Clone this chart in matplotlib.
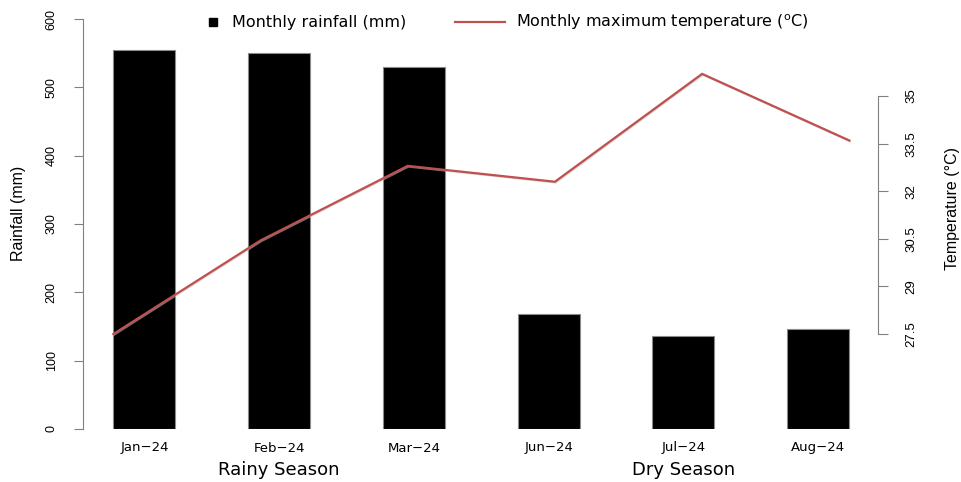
import matplotlib
matplotlib.use("Agg")
import matplotlib.pyplot as plt
from matplotlib import font_manager
from matplotlib.lines import Line2D
import matplotlib.patheffects as pe
import numpy as np

# ---- data ----
months = ["Jan\u221224", "Feb\u221224", "Mar\u221224", "Jun\u221224", "Jul\u221224", "Aug\u221224"]
seasons = ["Rainy Season", "Rainy Season", "Rainy Season", "Dry Season", "Dry Season", "Dry Season"]
rainfall = [554, 550, 530, 168, 136, 146]
max_temp = [27.5, 30.45, 32.8, 32.3, 35.7, 33.6]
rain_ticks = [0, 100, 200, 300, 400, 500, 600]
temp_ticks = [27.5, 29, 30.5, 32, 33.5, 35]

# ---- fonts ----
names = {f.name for f in font_manager.fontManager.ttflist}
narrow = "Liberation Sans Narrow" if "Liberation Sans Narrow" in names else (
    "DejaVu Sans Condensed" if "DejaVu Sans Condensed" in names else "Liberation Sans")
wide = "DejaVu Sans"
plt.rcParams['mathtext.fontset'] = 'custom'
plt.rcParams['mathtext.rm'] = wide

W, H = 962, 482
fig = plt.figure(figsize=(W / 100, H / 100), dpi=100)

def fx(px):
    return px / W

def fy(py):
    return (H - py) / H

left_px, right_px, top_px, bot_px = 83.3, 878.0, 19.0, 429.0
rect = [fx(left_px), fy(bot_px), fx(right_px) - fx(left_px), (bot_px - top_px) / H]

spine_col = "#808080"

# ---- bars ----
ax = fig.add_axes(rect)
x = np.arange(len(months))
ax.bar(x, rainfall, width=0.46, color="black", edgecolor="#8a8a8a", linewidth=0.8, zorder=2)
ax.set_xlim(-0.454, 5.444)
ax.set_ylim(0, 600)
for s in ["top", "right", "bottom"]:
    ax.spines[s].set_visible(False)
ax.spines["left"].set_bounds(0, 600)
ax.spines["left"].set_color(spine_col)
ax.spines["left"].set_linewidth(0.8)
ax.set_yticks(rain_ticks)
ax.set_yticklabels([str(t) for t in rain_ticks], rotation=90, va="center", ha="right",
                   fontfamily=narrow, fontsize=9)
ax.tick_params(axis="y", direction="out", length=6.5, width=0.8, color=spine_col, pad=12)
ax.set_xticks(x)
ax.set_xticklabels(months, fontfamily=wide, fontsize=9.5)
ax.tick_params(axis="x", length=0, pad=9)
ax.set_ylabel("Rainfall (mm)", fontfamily=narrow, fontsize=11.5, va="center", ha="center")
ax.yaxis.set_label_coords((19 - left_px) / (right_px - left_px), (bot_px - 213) / (bot_px - top_px))

# season labels centred under each group
for name in dict.fromkeys(seasons):
    idx = [i for i, s in enumerate(seasons) if s == name]
    ax.text(np.mean(x[idx]), (bot_px - 470) / (bot_px - top_px), name,
            transform=ax.get_xaxis_transform(), ha="center", va="center",
            fontfamily=wide, fontsize=13)

# ---- temperature line ----
ax2 = fig.add_axes(rect)
ax2.patch.set_visible(False)
xt = np.arange(1, len(max_temp) + 1)
ax2.plot(xt, max_temp, color="#c0504d", linewidth=1.6, solid_joinstyle="miter",
         path_effects=[pe.SimpleLineShadow(offset=(0.5, -0.5), shadow_color="#bbbbbb", alpha=0.6),
                       pe.Normal()], zorder=3)
ax2.set_xlim(0.796, 6.195)
ax2.set_ylim(24.506, 37.43)
ax2.set_xticks([])
ax2.yaxis.tick_right()
ax2.yaxis.set_label_position("right")
for s in ["top", "left", "bottom"]:
    ax2.spines[s].set_visible(False)
ax2.spines["right"].set_visible(True)
ax2.spines["right"].set_bounds(27.5, 35)
ax2.spines["right"].set_color(spine_col)
ax2.spines["right"].set_linewidth(0.8)
ax2.set_yticks(temp_ticks)
ax2.set_yticklabels([f"{t:g}" for t in temp_ticks], rotation=90, va="center", ha="left",
                    fontfamily=narrow, fontsize=9.5)
ax2.tick_params(axis="y", direction="out", length=7, width=0.8, color=spine_col, pad=13)
ax2.set_ylabel("Temperature (\u00b0C)", fontfamily=narrow, fontsize=11.5, rotation=90,
               va="center", ha="center")
ax2.yaxis.set_label_coords((952 - left_px) / (right_px - left_px), (bot_px - 209) / (bot_px - top_px))

# ---- legend (top) ----
fig.add_artist(Line2D([fx(213)], [fy(22)], marker="s", markersize=5.5, color="black",
                      linestyle="none", transform=fig.transFigure))
fig.text(fx(232), fy(22), "Monthly rainfall (mm)", ha="left", va="center",
         fontfamily=wide, fontsize=11.5)
fig.add_artist(Line2D([fx(455), fx(505)], [fy(22), fy(22)], color="#c0504d", linewidth=1.6,
                      transform=fig.transFigure))
fig.text(fx(516), fy(22), r"Monthly maximum temperature ($\mathrm{^{o}}$C)", ha="left", va="center",
         fontfamily=wide, fontsize=11.5)

fig.savefig("out.png", dpi=100)
